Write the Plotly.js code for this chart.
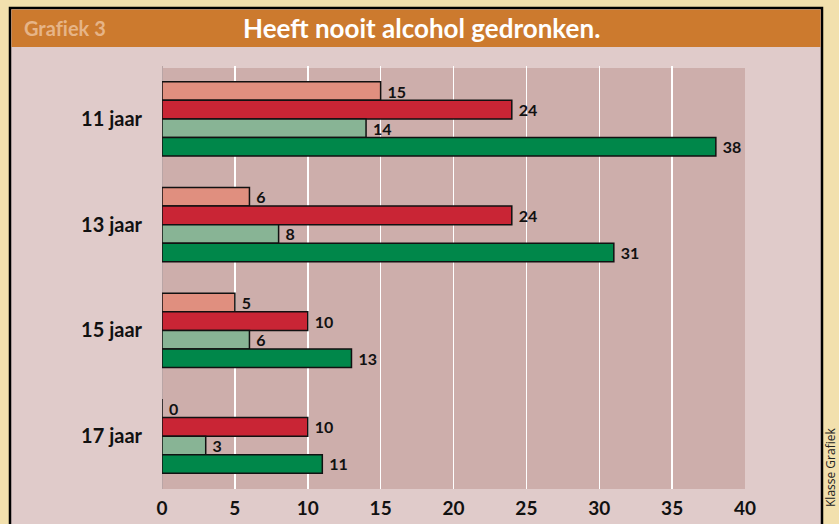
<!DOCTYPE html>
<html>
<head>
<meta charset="utf-8">
<script src="https://cdn.plot.ly/plotly-3.0.1.min.js"></script>
<style>
  html, body { margin: 0; padding: 0; background: #f2e0ad; }
  #chart { width: 839px; height: 524px; }
</style>
</head>
<body>
<div id="chart"></div>
<script>
// ---- data ----
const categories = ['11 jaar', '13 jaar', '15 jaar', '17 jaar'];
const seriesSalmon = [15, 6, 5, 0];
const seriesRed = [24, 24, 10, 10];
const seriesLightGreen = [14, 8, 6, 3];
const seriesDarkGreen = [38, 31, 13, 11];
const xTickValues = [0, 5, 10, 15, 20, 25, 30, 35, 40];

// ---- layout geometry (pixels) ----
const W = 839, H = 524;
const L = 162, R = 745, T = 66, B = 489;
const px = x => (x - L) / (R - L);
const py = y => (B - y) / (B - T);

const FONT = 'Lato, "Open Sans", sans-serif';

function barTrace(values, color) {
  return {
    type: 'bar',
    orientation: 'h',
    y: categories,
    x: values,
    marker: { color: color, line: { color: '#111', width: 1.5 } },
    text: values.map(v => '\u00a0' + v),
    textposition: 'outside',
    textfont: { family: FONT, size: 16, color: '#111', weight: 'bold' },
    constraintext: 'none',
    cliponaxis: false,
    hoverinfo: 'skip'
  };
}

const data = [
  barTrace(seriesSalmon, '#e08f7f'),
  barTrace(seriesRed, '#c92535'),
  barTrace(seriesLightGreen, '#88b495'),
  barTrace(seriesDarkGreen, '#00874a')
];

const layout = {
  width: W, height: H,
  margin: { l: L, r: W - R, t: T, b: H - B, pad: 0 },
  paper_bgcolor: '#f2e0ad',
  plot_bgcolor: '#cdaeab',
  barmode: 'group',
  bargap: 0.3,
  bargroupgap: 0,
  showlegend: false,
  font: { family: FONT, color: '#111' },
  xaxis: {
    range: [0, 40],
    tickvals: xTickValues,
    ticktext: xTickValues.map(String),
    showgrid: true, gridcolor: '#ffffff', gridwidth: 1.5,
    zeroline: true, zerolinecolor: '#b9a5a5', zerolinewidth: 1,
    showline: false,
    ticks: 'outside', ticklen: 2, tickcolor: 'rgba(0,0,0,0)',
    tickfont: { family: FONT, size: 19, color: '#111', weight: 'bold' },
    fixedrange: true
  },
  yaxis: {
    autorange: 'reversed',
    type: 'category',
    showgrid: false, zeroline: false, showline: false,
    ticks: 'outside', ticklen: 15, tickcolor: 'rgba(0,0,0,0)',
    tickfont: { family: FONT, size: 20, color: '#111', weight: 'bold' },
    fixedrange: true
  },
  shapes: [
    { type: 'rect', xref: 'paper', yref: 'paper', layer: 'below',
      x0: px(10), x1: px(822), y0: py(545), y1: py(8),
      fillcolor: '#e0cbca', line: { color: '#000', width: 2.5 } },
    { type: 'rect', xref: 'paper', yref: 'paper', layer: 'below',
      x0: px(11.5), x1: px(820.5), y0: py(47), y1: py(9.5),
      fillcolor: '#cc7a2e', line: { width: 0 } },
    { type: 'rect', xref: 'paper', yref: 'paper', layer: 'below',
      x0: 0, x1: 1, y0: 0, y1: py(68),
      fillcolor: '#cdaeab', line: { width: 0 } }
  ],
  annotations: [
    { xref: 'paper', yref: 'paper', x: px(421), y: py(28),
      text: 'Heeft nooit alcohol gedronken.', showarrow: false,
      xanchor: 'center', yanchor: 'middle',
      font: { family: FONT, size: 26, color: '#ffffff', weight: 'bold' } },
    { xref: 'paper', yref: 'paper', x: px(22), y: py(28),
      text: 'Graf\u200Ciek 3', showarrow: false,
      xanchor: 'left', yanchor: 'middle',
      font: { family: FONT, size: 20, color: '#e6b487', weight: 'bold' } },
    { xref: 'paper', yref: 'paper', x: px(830), y: py(468),
      text: 'Klasse Grafiek', showarrow: false, textangle: -90,
      xanchor: 'center', yanchor: 'middle',
      font: { family: '"Open Sans", sans-serif', size: 12, color: '#222' } }
  ]
};

Plotly.newPlot('chart', data, layout, { displayModeBar: false, staticPlot: true });
</script>
</body>
</html>
